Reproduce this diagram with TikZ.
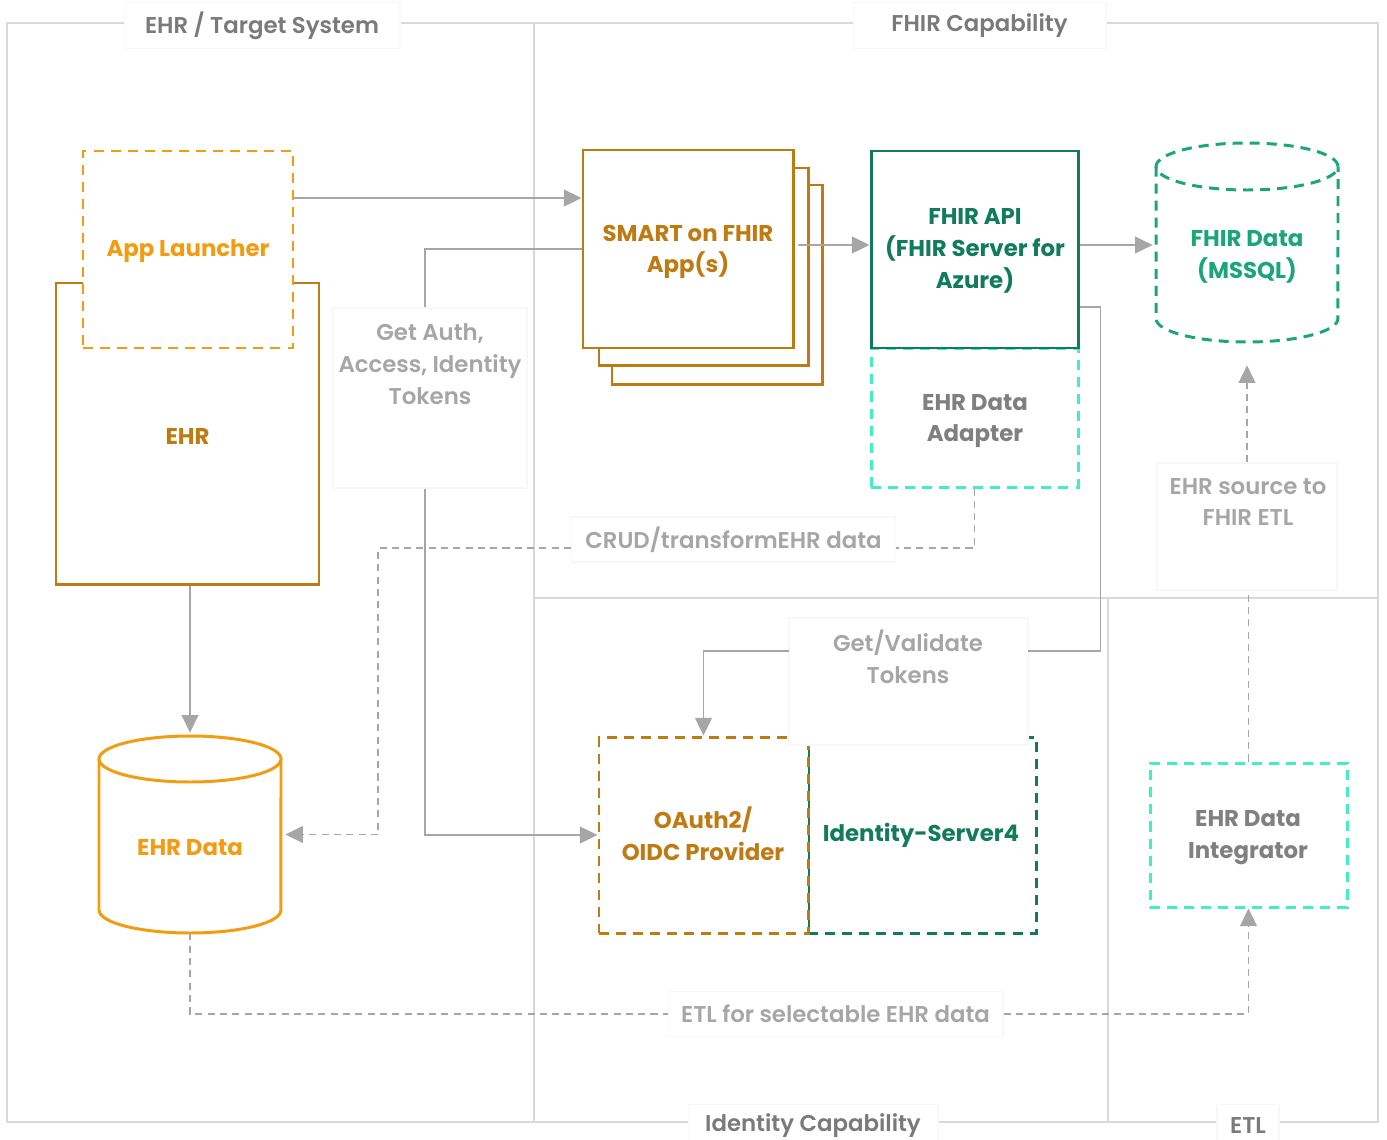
\documentclass[tikz,border=0pt]{standalone}
\usepackage{fontspec}
\setmainfont{Poppins}[UprightFont=* SemiBold, BoldFont=* Bold]
\usetikzlibrary{arrows.meta,fit}
\definecolor{oBright}{RGB}{243,156,18}
\definecolor{oDark}{RGB}{191,122,18}
\definecolor{gDark}{RGB}{17,124,90}
\definecolor{gMid}{RGB}{26,166,120}
\definecolor{aqua}{RGB}{64,240,196}
\definecolor{connGray}{RGB}{166,166,166}
\definecolor{frameGray}{RGB}{217,217,217}
\definecolor{titleGray}{RGB}{122,122,122}
\definecolor{lblGray}{RGB}{166,166,166}
\definecolor{nodeGray}{RGB}{128,128,128}
\definecolor{boxFaint}{RGB}{248,248,248}
\begin{document}
\begin{tikzpicture}[x=0.02cm,y=-0.02cm,
  frame/.style={draw=frameGray, line width=1.1pt},
  ttl/.style={fill=white, draw=boxFaint, line width=0.6pt, text=titleGray, font=\fontsize{13}{18}\selectfont, inner sep=0pt, yshift=-0.05cm},
  lblbox/.style={fill=white, draw=boxFaint, line width=0.6pt, inner sep=0pt},
  lbltext/.style={text=lblGray, align=center, font=\fontsize{13}{18.1}\selectfont, inner sep=0pt},
  ntext/.style={align=center, font=\bfseries\fontsize{13}{18.1}\selectfont, inner sep=0pt, yshift=-0.06cm},
  solidbox/.style={draw, line width=1.7pt, inner sep=0pt, fill=white},
  dashbox/.style={draw, line width=1.7pt, dash pattern=on 5.7pt off 4pt, inner sep=0pt, fill=white},
  conn/.style={draw=connGray, line width=1.1pt},
  dconn/.style={conn, dash pattern=on 4pt off 3pt},
  tip/.style={-{Triangle[length=10pt,width=9.5pt]}}
]
\useasboundingbox[fill=white] (0,0) rectangle (1387,1140);

% frame
\draw[frame] (7,23) rectangle (1378,1122);
\draw[frame] (534,23) -- (534,1122);
\draw[frame] (534,598) -- (1378,598);
\draw[frame] (1108,598) -- (1108,1122);

% titles
\node[ttl, minimum width=5.52cm, minimum height=0.92cm] (tEHR) at (262,23) {EHR / Target System};
\node[ttl, minimum width=5.06cm, minimum height=0.92cm] (tFHIR) at (979.5,23) {FHIR Capability};
\node[ttl, minimum width=5.0cm, minimum height=0.84cm] (tID) at (813,1123) {Identity Capability};
\node[ttl, minimum width=1.24cm, minimum height=0.84cm] (tETL) at (1248,1123) {ETL};

% EHR and App Launcher
\node[solidbox, draw=oDark, fit={(56,283)(319,584)}] (ehr) {};
\node[ntext, text=oDark] (ehrtxt) at (187.5,433) {EHR};
\node[dashbox, draw=oBright, fit={(83,151)(293,348)}] (app) {};
\node[ntext, text=oBright] (apptxt) at (188,248) {App Launcher};

% EHR Data cylinder
\draw[line width=1.7pt, draw=oBright, fill=white] (99,759) -- (99,910) arc[start angle=180, end angle=360, x radius=1.82cm, y radius=0.46cm] -- (281,759);
\draw[line width=1.7pt, draw=oBright, fill=white] (190,759) ellipse[x radius=1.82cm, y radius=0.46cm];
\node[fit={(99,736)(281,933)}, inner sep=0pt] (ehrdata) {};
\node[ntext, text=oBright] (ehrdatatxt) at (190,845) {EHR Data};

% SMART stack
\node[solidbox, draw=oDark, fit={(612,185)(822,384)}] (smart3) {};
\node[solidbox, draw=oDark, fit={(599,168)(808,365)}] (smart2) {};
\node[solidbox, draw=oDark, fit={(583,150)(793,348)}] (smart) {};
\node[ntext, text=oDark] (smarttxt) at (688,249) {SMART on FHIR\\App(s)};

% FHIR API and adapter
\node[dashbox, draw=aqua, fit={(871,348)(1078,487)}] (adapter) {};
\node[ntext, text=nodeGray] (adaptertxt) at (975,418) {EHR Data\\Adapter};
\node[solidbox, draw=gDark, fit={(871,151)(1078,348)}] (fhirapi) {};
\node[ntext, text=gDark] (fhirapitxt) at (975,248) {FHIR API\\(FHIR Server for\\Azure)};

% FHIR Data cylinder
\draw[line width=1.7pt, draw=gMid, dash pattern=on 5.7pt off 4pt, fill=white] (1156,166.5) -- (1156,318.5) arc[start angle=180, end angle=360, x radius=1.82cm, y radius=0.47cm] -- (1338,166.5);
\draw[line width=1.7pt, draw=gMid, dash pattern=on 5.7pt off 4pt] (1247,166.5) ellipse[x radius=1.82cm, y radius=0.47cm];
\node[fit={(1156,143)(1338,342)}, inner sep=0pt] (fdata) {};
\node[ntext, text=gMid] (fdatatxt) at (1247,254) {FHIR Data\\(MSSQL)};

% identity
\node[dashbox, draw=gDark, fit={(808,737)(1036,933)}] (idsrv) {};
\node[ntext, text=gDark] (idsrvtxt) at (921,832) {Identity-Server4};
\node[dashbox, draw=oDark, fit={(599,737)(808,933)}] (oauth) {};
\node[ntext, text=oDark] (oauthtxt) at (703,831) {OAuth2/\\OIDC Provider};

% integrator
\node[dashbox, draw=aqua, fit={(1150,763)(1347,907)}] (integ) {};
\node[ntext, text=nodeGray] (integtxt) at (1248,835) {EHR Data\\Integrator};

% label boxes
\node[lblbox, fit={(333,308)(527,488)}] (authbox) {};
\node[lbltext] (authtxt) at (430,364) {Get Auth,\\Access, Identity\\Tokens};
\node[lblbox, fit={(789,618)(1028,745)}] (gvbox) {};
\node[lbltext] (gvtxt) at (908,657) {Get/Validate\\Tokens};
\node[lblbox, fit={(1157,463)(1337,590)}] (srcbox) {};
\node[lbltext] (srctxt) at (1248,502) {EHR source to\\FHIR ETL};
\node[lblbox, minimum width=6.48cm, minimum height=0.9cm, text=lblGray, font=\fontsize{13}{18}\selectfont] (crud) at (733.5,539.5) {CRUD/transformEHR data};
\node[lblbox, minimum width=6.7cm, minimum height=0.9cm, text=lblGray, font=\fontsize{13}{18}\selectfont] (etl) at (835.5,1014) {ETL for selectable EHR data};

\coordinate (gvR) at (1028,651);
\coordinate (gvL) at (789,651);
\coordinate (fdtip) at ([yshift=-0.46cm]fdata.south);

% connectors
\draw[conn,tip] ([yshift=1.03cm]app.east) -- ([yshift=1.03cm]app.east -| smart.west);
\draw[conn] (smart.west) -| ([xshift=-0.1cm]authbox.north);
\draw[conn,tip] ([xshift=-0.1cm]authbox.south) |- (oauth.west);
\draw[conn,tip] ([xshift=0.08cm,yshift=0.08cm]smart.east) -- ([yshift=0.09cm]fhirapi.west);
\draw[conn,tip] ([yshift=0.09cm]fhirapi.east) -- ([yshift=0.09cm,xshift=-0.06cm]fhirapi.east -| fdata.west);
\draw[conn] ([yshift=-1.15cm]fhirapi.east) -- ++(21,0) |- (gvR);
\draw[conn,tip] (gvL) -| (oauth.north);
\draw[conn,tip] (ehr.south -| ehrdata.north) -- ([yshift=0.06cm]ehrdata.north);
\draw[dconn] (adapter.south) |- ([yshift=-0.17cm]crud.east);
\draw[dconn,tip] ([yshift=-0.17cm]crud.west) -| ([xshift=1.94cm]ehrdata.east) -- ([xshift=0.08cm]ehrdata.east);
\draw[dconn] (ehrdata.south) |- (etl.west);
\draw[dconn,tip] (etl.east) -| (integ.south);
\draw[dconn] (integ.north) -- (integ.north |- srcbox.south);
\draw[dconn,tip] (srcbox.north) -- (fdtip);
\end{tikzpicture}
\end{document}
